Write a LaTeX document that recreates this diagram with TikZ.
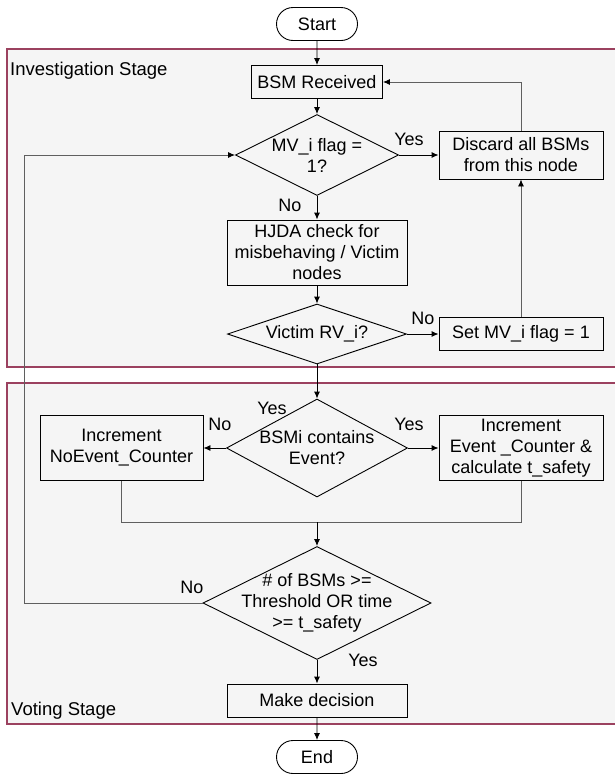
\documentclass[tikz,border=0pt]{standalone}
\usepackage{fontspec}
\setmainfont{Liberation Sans}
\usetikzlibrary{shapes.geometric,shapes.misc,arrows.meta}
\definecolor{panelred}{RGB}{155,65,95}
\definecolor{panelgray}{RGB}{245,245,245}
\definecolor{linegray}{RGB}{95,95,95}
\begin{document}
\begin{tikzpicture}[x=1pt,y=-1pt,
 font=\fontsize{18}{21}\selectfont,
 box/.style={draw=black, line width=0.9pt, rectangle, inner sep=0pt, align=center},
 pill/.style={draw=black, line width=0.9pt, rounded rectangle, fill=white, inner sep=0pt, minimum width=81pt, minimum height=33pt},
 dia/.style={draw=black, line width=0.9pt, diamond, inner sep=0pt},
 txt/.style={align=center, inner sep=0pt},
 arr/.style={-{Latex[length=7pt,width=6pt]}, line width=0.9pt},
 garr/.style={-{Latex[length=7pt,width=6pt,color=black]}, line width=0.9pt, draw=linegray},
 gline/.style={line width=0.9pt, draw=linegray},
 lbl/.style={inner sep=0pt},
 panel/.style={draw=panelred, fill=panelgray, line width=1.2pt}
]
\useasboundingbox (0,0) rectangle (615,774);
\fill[white] (0,0) rectangle (615,774);
% panels
\draw[panel] (7,49) rectangle (630,367);
\draw[panel] (7,383) rectangle (630,724);
\node[lbl, anchor=west, font=\fontsize{18.5}{22}\selectfont] (invlbl) at (10,71) {Investigation Stage};
\node[lbl, anchor=west, font=\fontsize{18.5}{22}\selectfont] (votlbl) at (11,711) {Voting Stage};
% nodes
\node[pill] (start) at (317,24) {Start};
\node[box, minimum width=131pt, minimum height=33pt] (bsm) at (317,82) {BSM Received};
\node[dia, minimum width=163pt, minimum height=81pt] (mv) at (317,155) {};
\node[txt] (mvt) at (mv) {MV\_i flag =\\1?};
\node[box, minimum width=164pt, minimum height=48pt] (discard) at (521,155) {Discard all BSMs\\from this node};
\node[box, minimum width=180pt, minimum height=65pt] (hjda) at (317,252.5) {HJDA check for\\misbehaving / Victim\\nodes};
\node[dia, minimum width=179pt, minimum height=60pt] (victim) at (317,334) {};
\node[txt] (victimt) at (victim) {Victim RV\_i?};
\node[box, minimum width=164pt, minimum height=33pt] (setmv) at (521,334) {Set MV\_i flag = 1};
\node[dia, minimum width=181pt, minimum height=98pt] (bsmi) at (317,448) {};
\node[txt] (bsmit) at (bsmi) {BSMi contains\\Event?};
\node[box, minimum width=163pt, minimum height=65pt] (noev) at (121.5,448) {Increment\\NoEvent\_Counter};
\node[box, minimum width=164pt, minimum height=65pt] (ev) at (521,448) {Increment\\Event \_Counter \&\\calculate t\_safety};
\node[dia, minimum width=228pt, minimum height=113pt] (thr) at (317,603) {};
\node[txt] (thrt) at (thr) {\# of BSMs >=\\Threshold OR time\\>= t\_safety};
\node[box, minimum width=180pt, minimum height=33pt] (dec) at (317,700.5) {Make decision};
\node[pill] (end) at (317,757) {End};
% connectors
\draw[arr] (start) -- (bsm);
\draw[arr] (bsm) -- (mv);
\draw[arr] (mv.east) -- (discard.west);
\draw[arr] (mv.south) -- (hjda.north);
\draw[arr] (hjda) -- (victim);
\draw[arr] (victim.east) -- (setmv.west);
\draw[garr] (setmv.north) -- (discard.south);
\draw[garr] (discard.north) |- (bsm.east);
\draw[arr] (victim.south) -- (bsmi.north);
\draw[arr] (bsmi.west) -- (noev.east);
\draw[arr] (bsmi.east) -- (ev.west);
\coordinate (merge) at (317,522);
\draw[gline] (noev.south) |- (merge);
\draw[gline] (ev.south) |- (merge);
\draw[arr] (merge) -- (thr.north);
\coordinate (fb) at (24,603);
\draw[garr] (thr.west) -- (fb) |- (mv.west);
\draw[arr] (thr.south) -- (dec.north);
\draw[arr] (dec) -- (end);
% labels
\node[lbl] (l1) at (409,139) {Yes};
\node[lbl] (l2) at (290,205) {No};
\node[lbl] (l3) at (423,318) {No};
\node[lbl] (l4) at (272,408) {Yes};
\node[lbl] (l5) at (220,424) {No};
\node[lbl] (l6) at (409,424) {Yes};
\node[lbl] (l7) at (192,587) {No};
\node[lbl] (l8) at (363,660) {Yes};
\end{tikzpicture}
\end{document}
